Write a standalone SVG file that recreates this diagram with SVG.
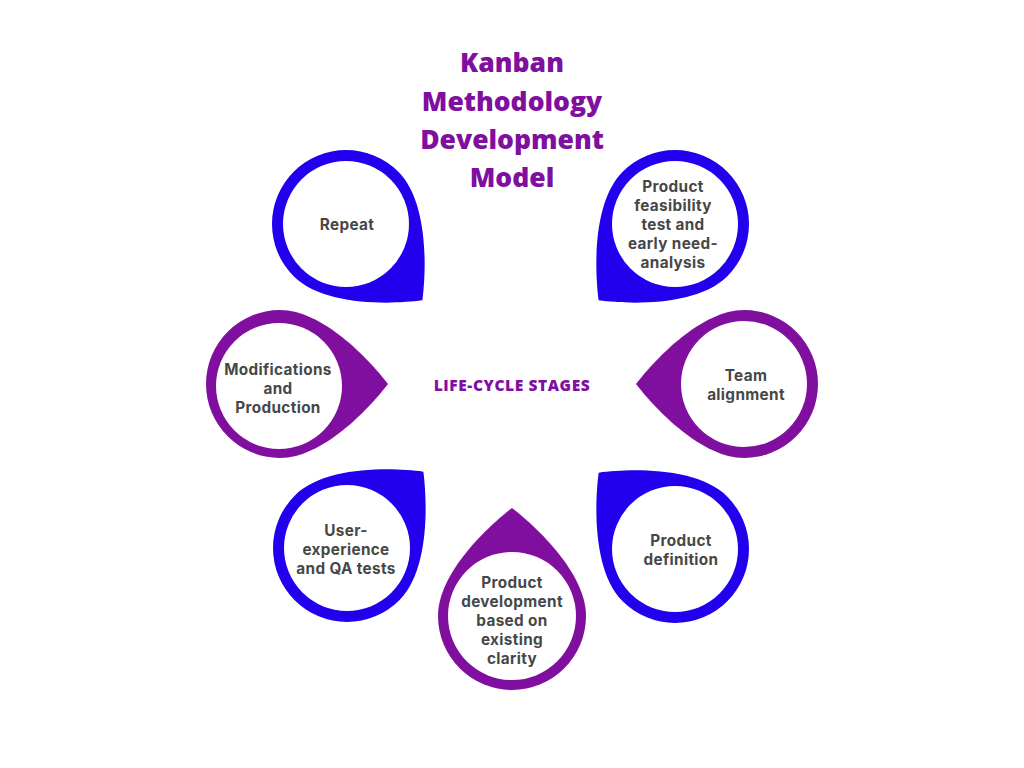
<svg xmlns="http://www.w3.org/2000/svg" xmlns:xlink="http://www.w3.org/1999/xlink" width="1024" height="768" viewBox="0 0 1024 768">
<style>
.blue{fill:#2200ee}
.purple{fill:#800f9f}
.hole{fill:#ffffff}
.title{font-family:"Open Sans","Liberation Sans",sans-serif;font-weight:800;font-size:26.5px;fill:#7f0f9f;text-anchor:middle}
.stage{font-family:"Open Sans","Liberation Sans",sans-serif;font-weight:800;font-size:15.5px;fill:#7f0f9f;text-anchor:middle;letter-spacing:0.6px}
.lbl{font-family:Inter,"Open Sans","Liberation Sans",sans-serif;font-weight:700;font-size:15.3px;fill:#474747;text-anchor:middle;letter-spacing:0.35px}
</style>
<defs>
<path id="drop" d="M 0,-74 A 74 74 0 0 0 -74,0 A 74 74 0 0 0 0,74 C 42,74 88,26 108,0 C 88,-26 42,-74 0,-74 Z"/>
</defs>
<rect width="1024" height="768" fill="#ffffff"/>
<g id="title">
<text class="title" x="512" y="72">Kanban</text>
<text class="title" x="512" y="110.5">Methodology</text>
<text class="title" x="512" y="149">Development</text>
<text class="title" x="512" y="187">Model</text>
</g>
<g id="center-label">
<text class="stage" x="512" y="391">LIFE-CYCLE STAGES</text>
</g>
<g id="connectors"></g>
<g id="node-repeat">
<use xlink:href="#drop" class="blue" transform="translate(346,224) rotate(45)"/>
<circle class="hole" cx="346" cy="224" r="63"/>
<text class="lbl" x="347" y="229.5">Repeat</text>
</g>
<g id="node-feasibility">
<use xlink:href="#drop" class="blue" transform="translate(675,224) rotate(135)"/>
<circle class="hole" cx="675" cy="224" r="63"/>
<text class="lbl" x="673" y="191.5">Product</text>
<text class="lbl" x="673" y="210.5">feasibility</text>
<text class="lbl" x="673" y="229.5">test and</text>
<text class="lbl" x="673" y="248.5">early need-</text>
<text class="lbl" x="673" y="267.5">analysis</text>
</g>
<g id="node-team">
<use xlink:href="#drop" class="purple" transform="translate(744,384) rotate(180)"/>
<circle class="hole" cx="744" cy="384" r="63"/>
<text class="lbl" x="746" y="380.5">Team</text>
<text class="lbl" x="746" y="399.5">alignment</text>
</g>
<g id="node-modifications">
<use xlink:href="#drop" class="purple" transform="translate(280,384) rotate(0)"/>
<circle class="hole" cx="279" cy="386" r="63"/>
<text class="lbl" x="278" y="374.5">Modifications</text>
<text class="lbl" x="278" y="393.5">and</text>
<text class="lbl" x="278" y="412.5">Production</text>
</g>
<g id="node-definition">
<use xlink:href="#drop" class="blue" transform="translate(675,549) rotate(225)"/>
<circle class="hole" cx="675" cy="549" r="63"/>
<text class="lbl" x="681" y="545.5">Product</text>
<text class="lbl" x="681" y="564.5">definition</text>
</g>
<g id="node-ux">
<use xlink:href="#drop" class="blue" transform="translate(347,548) rotate(-45)"/>
<circle class="hole" cx="347" cy="548" r="63"/>
<text class="lbl" x="346" y="535.5">User-</text>
<text class="lbl" x="346" y="554.5">experience</text>
<text class="lbl" x="346" y="573.5">and QA tests</text>
</g>
<g id="node-development">
<use xlink:href="#drop" class="purple" transform="translate(512,616) rotate(-90)"/>
<circle class="hole" cx="512" cy="616" r="64"/>
<text class="lbl" x="512" y="587.5">Product</text>
<text class="lbl" x="512" y="606.5">development</text>
<text class="lbl" x="512" y="625.5">based on</text>
<text class="lbl" x="512" y="644.5">existing</text>
<text class="lbl" x="512" y="663.5">clarity</text>
</g>
</svg>
